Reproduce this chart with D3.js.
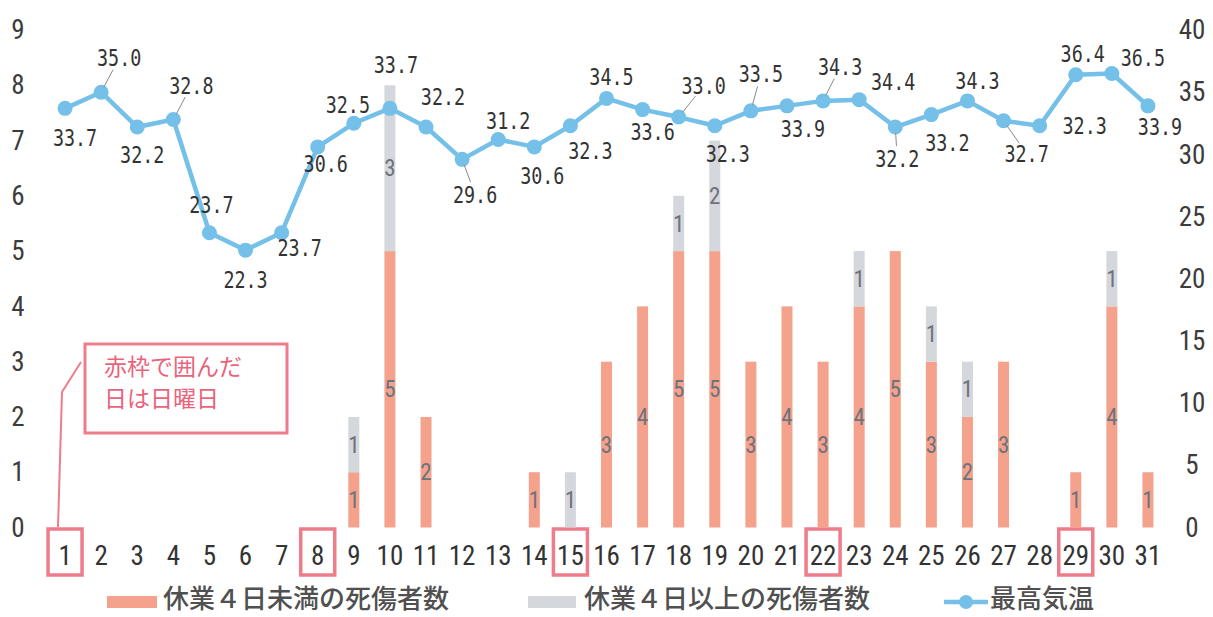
<!DOCTYPE html>
<html><head><meta charset="utf-8">
<script src="https://cdn.jsdelivr.net/npm/d3@7"></script>
<style>body{margin:0;background:#fff} svg{display:block}</style>
</head><body><svg id="c" width="1213" height="617"></svg>
<script>
// ---- data ----
const days = d3.range(1, 32);
const under4 = [0,0,0,0,0,0,0,0,1,5,2,0,0,1,0,3,4,5,5,3,4,3,4,5,3,2,3,0,1,4,1];
const over4  = [0,0,0,0,0,0,0,0,1,3,0,0,0,0,1,0,0,1,2,0,0,0,1,0,1,1,0,0,0,1,0];
const maxTemp = [33.7,35.0,32.2,32.8,23.7,22.3,23.7,30.6,32.5,33.7,32.2,29.6,31.2,30.6,32.3,34.5,33.6,33.0,32.3,33.5,33.9,34.3,34.4,32.2,33.2,34.3,32.7,32.3,36.4,36.5,33.9];
const sundays = [1, 8, 15, 22, 29];
const leftTicks = d3.range(0, 10);
const rightTicks = d3.range(0, 41, 5);
const seriesNames = ["休業４日未満の死傷者数", "休業４日以上の死傷者数", "最高気温"];
const noteLines = ["赤枠で囲んだ", "日は日曜日"];

// ---- layout (label placement, not data) ----
const labelOffsets = [[10,29],[18,-34],[5,28],[18,-34],[2,-28],[0,30],[18,15],[8,17],[-6,-19],[6,-44],[17,-30],[13,35],[10,-19],[8,29],[20,25],[5,-22],[10,22],[25,-31],[13,28],[10,-37],[16,23],[17,-34],[34,-18],[2,32],[16,28],[10,-20],[23,33],[45,0],[7,-21],[31,-16],[12,21]];
const leaderDays = [2, 4, 12, 18, 20, 22, 24, 27];

const C = {orange: "#f5a28c", gray: "#d4d7db", line: "#74c0e8", red: "#ee7c8a", text: "#3c3c3c"};
const svg = d3.select("#c");

const x = d3.scaleBand().domain(days).range([47, 1166]).paddingInner(0.695).paddingOuter(0.3475);
const cx = d => x(d) + x.bandwidth() / 2;
const yL = d3.scaleLinear().domain([0, 9]).range([527.5, 30]);
const yR = d3.scaleLinear().domain([0, 40]).range([527.5, 30]);

const numFont = "'Liberation Sans Narrow','Roboto Condensed','Liberation Sans',sans-serif";

// axes
const gL = svg.append("g").attr("transform", "translate(26,0)")
  .call(d3.axisLeft(yL).tickValues(leftTicks).tickSize(0).tickPadding(0));
const gR = svg.append("g").attr("transform", "translate(1185,0)")
  .call(d3.axisRight(yR).tickValues(rightTicks).tickSize(0).tickPadding(0));
const gB = svg.append("g").attr("transform", "translate(0,555)")
  .call(d3.axisBottom(x).tickSize(0).tickPadding(0));
[gL, gR, gB].forEach(g => {
  g.select(".domain").remove();
  g.selectAll("text").attr("font-family", numFont).attr("font-size", 27).attr("fill", C.text);
});
gL.selectAll("text").attr("text-anchor", "middle").attr("x", -8);
gR.selectAll("text").attr("text-anchor", "middle").attr("x", 7);
gB.selectAll("text").attr("dy", "0.36em").attr("fill", "#333");

// sunday boxes
svg.append("g").selectAll("rect").data(sundays).join("rect")
  .attr("x", d => cx(d) - 17).attr("y", 529).attr("width", 34).attr("height", 46)
  .attr("fill", "none").attr("stroke", C.red).attr("stroke-width", 3.5);

// bars
const stackData = days.map((d, i) => ({day: d, under4: under4[i], over4: over4[i]}));
const stacks = d3.stack().keys(["under4", "over4"])(stackData);
const colors = {under4: C.orange, over4: C.gray};
const gBars = svg.append("g");
stacks.forEach(s => {
  gBars.append("g").selectAll("rect").data(s.filter(p => p[1] > p[0])).join("rect")
    .attr("x", p => x(p.data.day)).attr("width", x.bandwidth())
    .attr("y", p => yL(p[1])).attr("height", p => yL(p[0]) - yL(p[1]))
    .attr("fill", colors[s.key]);
  gBars.append("g").selectAll("text").data(s.filter(p => p[1] > p[0])).join("text")
    .attr("x", p => cx(p.data.day)).attr("y", p => yL((p[0] + p[1]) / 2))
    .attr("dy", "0.35em").attr("text-anchor", "middle")
    .attr("font-family", numFont).attr("font-size", 23).attr("fill", "#6d727c")
    .text(p => p[1] - p[0]);
});

// line
const pts = days.map((d, i) => [cx(d), yR(maxTemp[i])]);
svg.append("path").attr("d", d3.line()(pts)).attr("fill", "none")
  .attr("stroke", C.line).attr("stroke-width", 4.5).attr("stroke-linejoin", "round");
svg.append("g").selectAll("circle").data(pts).join("circle")
  .attr("cx", p => p[0]).attr("cy", p => p[1]).attr("r", 7.5).attr("fill", C.line);

// leader lines
svg.append("g").selectAll("line").data(leaderDays).join("line")
  .each(function(d) {
    const i = d - 1, [px, py] = pts[i], [dx, dy] = labelOffsets[i];
    const len = Math.hypot(dx, dy), ux = dx / len, uy = dy / len;
    d3.select(this).attr("x1", px + ux * 6).attr("y1", py + uy * 6)
      .attr("x2", px + dx - ux * 13).attr("y2", py + dy - uy * 13);
  })
  .attr("stroke", "#8a8a8a").attr("stroke-width", 1);

// temperature labels
svg.append("g").selectAll("text").data(days).join("text")
  .attr("transform", d => {
    const i = d - 1;
    return `translate(${pts[i][0] + labelOffsets[i][0]},${pts[i][1] + labelOffsets[i][1]}) scale(0.8,1)`;
  })
  .attr("dy", "0.36em").attr("text-anchor", "middle")
  .attr("font-family", "'DejaVu Sans Mono',monospace").attr("font-size", 23).attr("fill", "#333")
  .text((d, i) => d3.format(".1f")(maxTemp[i]));

// annotation
svg.append("path").attr("d", "M81,362 L62,392 L58,527").attr("fill", "none")
  .attr("stroke", C.red).attr("stroke-width", 2);
svg.append("rect").attr("x", 85).attr("y", 344).attr("width", 202).attr("height", 89)
  .attr("fill", "#fff").attr("stroke", C.red).attr("stroke-width", 3);
svg.append("g").selectAll("text").data(noteLines).join("text")
  .attr("x", 104).attr("y", (d, i) => 367 + i * 32).attr("dy", "0.36em")
  .attr("font-family", "'Noto Sans CJK JP',sans-serif").attr("font-size", 23)
  .attr("fill", "#e9647a").text(d => d);

// legend
const lg = svg.append("g").attr("font-family", "'Noto Sans CJK JP',sans-serif")
  .attr("font-size", 26).attr("font-weight", 500).attr("fill", "#505050");
lg.append("rect").attr("x", 107).attr("y", 596).attr("width", 50).attr("height", 12).attr("fill", C.orange);
lg.append("text").attr("x", 163).attr("y", 608).text(seriesNames[0]);
lg.append("rect").attr("x", 528).attr("y", 596).attr("width", 48).attr("height", 12).attr("fill", C.gray);
lg.append("text").attr("x", 584).attr("y", 608).text(seriesNames[1]);
lg.append("line").attr("x1", 944).attr("x2", 988).attr("y1", 602).attr("y2", 602)
  .attr("stroke", C.line).attr("stroke-width", 4.5);
lg.append("circle").attr("cx", 966).attr("cy", 602).attr("r", 7).attr("fill", C.line);
lg.append("text").attr("x", 990).attr("y", 608).text(seriesNames[2]);
</script></body></html>
